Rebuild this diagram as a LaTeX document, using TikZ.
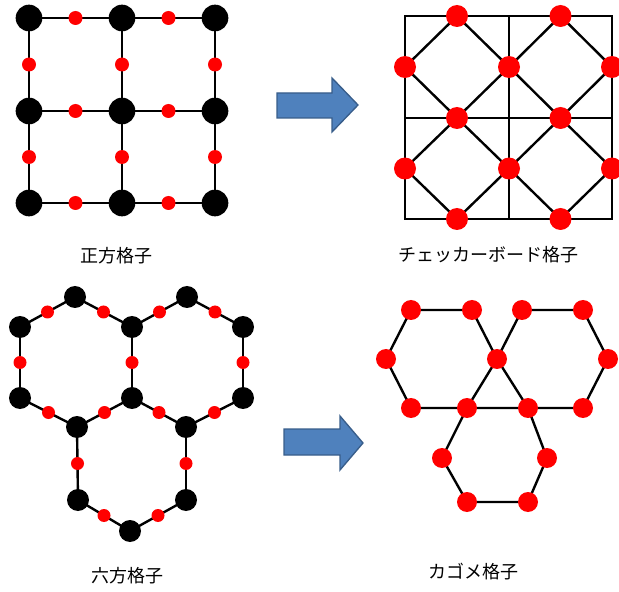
\documentclass[tikz,border=0pt]{standalone}
\usepackage{fontspec}
\newfontfamily\jpfont{Noto Sans CJK JP}
\usetikzlibrary{positioning, calc}

\definecolor{arrowfill}{HTML}{4F81BD}
\definecolor{arrowline}{HTML}{385D8A}

\tikzset{
  bond/.style={line width=1.8pt, black},
  bigdot/.style={circle, fill=black, inner sep=0pt, minimum size=#1},
  reddot/.style={circle, fill=red, inner sep=0pt, minimum size=#1},
  caption/.style={font=\jpfont\fontsize{13.5}{16}\selectfont, inner sep=0pt},
  blockarrow/.style={fill=arrowfill, draw=arrowline, line width=1pt, line join=miter}
}

\begin{document}
\begin{tikzpicture}[x=0.75pt, y=-0.75pt]
    \useasboundingbox (0,0) rectangle (619,592);
    %--- SQUARE LATTICE ---
    \foreach \i/\x in {0/29,1/122,2/215}
      \foreach \j/\y in {0/18,1/111,2/203}
        \coordinate (s\i\j) at (\x,\y);
    \foreach \i in {0,1,2} {
      \draw[bond] (s\i0) -- (s\i1) -- (s\i2);
      \draw[bond] (s0\i) -- (s1\i) -- (s2\i);
    }
    \foreach \i in {0,1,2}
      \foreach \j/\k in {0/1,1/2} {
        \node[reddot=10.5pt] (sv\i\j) at ($(s\i\j)!0.5!(s\i\k)$) {};
        \node[reddot=10.5pt] (sh\j\i) at ($(s\j\i)!0.5!(s\k\i)$) {};
      }
    \foreach \i in {0,1,2}
      \foreach \j in {0,1,2}
        \node[bigdot=20pt] (S\i\j) at (s\i\j) {};
    \node[caption] (lblsq) at (116,256) {正方格子};

    %--- CHECKERBOARD ---
    \foreach \i/\x in {0/405,1/509,2/612}
      \foreach \j/\y in {0/16,1/118,2/219}
        \coordinate (c\i\j) at (\x,\y);
    \draw[bond] (c00) rectangle (c22);
    \draw[bond] (c10) -- (c12);
    \draw[bond] (c01) -- (c21);
    \foreach \i/\ii in {0/1,1/2}
      \foreach \j in {0,1,2}
        \coordinate (ch\i\j) at ($(c\i\j)!0.5!(c\ii\j)$);
    \foreach \i in {0,1,2}
      \foreach \j/\jj in {0/1,1/2}
        \coordinate (cv\i\j) at ($(c\i\j)!0.5!(c\i\jj)$);
    \foreach \i/\ii in {0/1,1/2}
      \foreach \j/\jj in {0/1,1/2}
        \draw[bond] (ch\i\j) -- (cv\ii\j) -- (ch\i\jj) -- (cv\i\j) -- cycle;
    \foreach \i in {0,1}
      \foreach \j in {0,1,2}
        \node[reddot=16.5pt] (CH\i\j) at (ch\i\j) {};
    \foreach \i in {0,1,2}
      \foreach \j in {0,1}
        \node[reddot=16.5pt] (CV\i\j) at (cv\i\j) {};
    \node[caption] (lblcb) at (488,255) {チェッカーボード格子};

    %--- ARROWS ---
    \filldraw[blockarrow] (277,93) -- (332,93) -- (332,78) -- (358,105)
      -- (332,132) -- (332,118) -- (277,118) -- cycle;
    \filldraw[blockarrow] (284,429) -- (340,429) -- (340,416) -- (363,443)
      -- (340,470) -- (340,455) -- (284,455) -- cycle;

    %--- HONEYCOMB ---
    \foreach \n/\p in {ta/{75,297}, tb/{187,297}, ua/{20,327}, ub/{132,327},
                       uc/{243,327}, la/{20,398}, lb/{132,398}, lc/{243,398},
                       ma/{77,427}, mb/{186,427}, ba/{78,500}, bb/{186,500},
                       bc/{130,531}}
      \coordinate (h\n) at (\p);
    \foreach \a/\b in {ta/ua, ta/ub, ua/la, ub/lb, la/ma, ma/lb, ub/tb, tb/uc,
                       uc/lc, lc/mb, mb/lb, ma/ba, ba/bc, bc/bb, bb/mb}
      \draw[bond] (h\a) -- (h\b);
    \foreach \a/\b in {ta/ua, ta/ub, ua/la, ub/lb, la/ma, ma/lb, ub/tb, tb/uc,
                       uc/lc, lc/mb, mb/lb, ma/ba, ba/bc, bc/bb, bb/mb}
      \node[reddot=9.75pt] (m\a\b) at ($(h\a)!0.5!(h\b)$) {};
    \foreach \n in {ta, tb, ua, ub, uc, la, lb, lc, ma, mb, ba, bb, bc}
      \node[bigdot=16.5pt] (H\n) at (h\n) {};
    \node[caption] (lblhx) at (127,576) {六方格子};

    %--- KAGOME ---
    \foreach \n/\p in {1/{411,310}, 2/{472,310}, 3/{522,310}, 4/{583,310},
                       5/{386,359}, 6/{497,359}, 7/{608,359},
                       8/{411,408}, 9/{467,408}, 10/{528,408}, 11/{583,408},
                       12/{442,458}, 13/{547,458}, 14/{467,502}, 15/{528,502}}
      \coordinate (k\n) at (\p);
    \draw[bond] (k1) -- (k2) -- (k6) -- (k9) -- (k8) -- (k5) -- cycle;
    \draw[bond] (k3) -- (k4) -- (k7) -- (k11) -- (k10) -- (k6) -- cycle;
    \draw[bond] (k9) -- (k10) -- (k13) -- (k15) -- (k14) -- (k12) -- cycle;
    \foreach \n in {1,...,15}
      \node[reddot=15pt] (K\n) at (k\n) {};
    \node[caption] (lblkg) at (473,572) {カゴメ格子};
\end{tikzpicture}
\end{document}
